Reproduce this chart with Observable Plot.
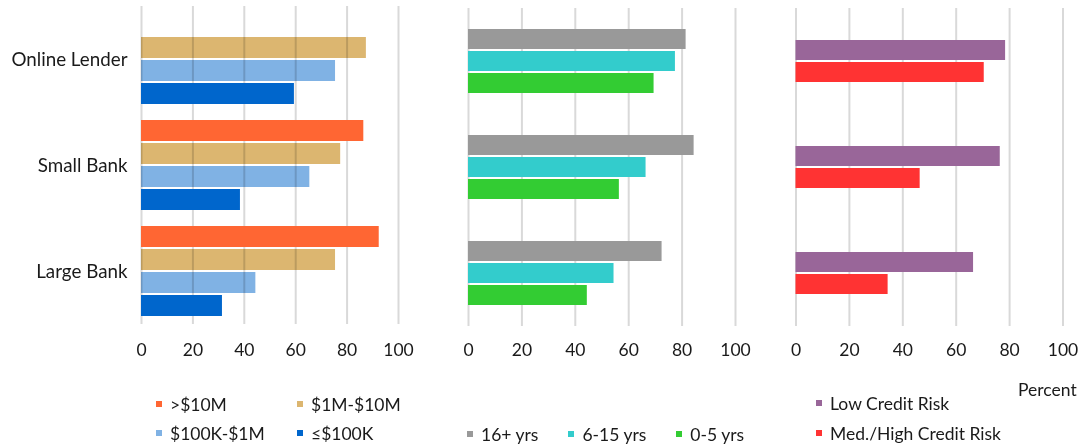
<!DOCTYPE html>
<html>
<head>
<meta charset="utf-8">
<script src="https://cdn.jsdelivr.net/npm/d3@7"></script>
<script src="https://cdn.jsdelivr.net/npm/@observablehq/plot@0.6"></script>
<style>
  html, body { margin: 0; padding: 0; background: #fff; }
  #root { position: relative; width: 1088px; height: 448px; font-family: Lato, "Noto Sans", sans-serif; color: #1a1a1a; overflow: hidden; }
  .panel { position: absolute; top: 0; }
  .legend { position: absolute; font-size: 17.5px; }
  .item { display: flex; align-items: center; height: 20px; white-space: nowrap; }
  .sw { width: 6px; height: 6px; margin-right: 8px; flex: none; }
  .grid2 { display: grid; grid-template-columns: 141px 141px; row-gap: 9px; }
  .row { display: flex; column-gap: 30px; }
  .col { display: flex; flex-direction: column; row-gap: 10px; }
  .panel g[aria-label="fy-axis tick label"] text { font-size: 18.8px; }
</style>
</head>
<body>
<div id="root"></div>
<script>
// ---- Data ----
const categories = ["Online Lender", "Small Bank", "Large Bank"];

const sizeSeries = [">$10M", "$1M-$10M", "$100K-$1M", "≤$100K"];
const sizeColors = ["#FF6633", "#DCB670", "#80B2E4", "#0066CC"];
const sizeOver10M = [null, 86.5, 92.5];
const size1Mto10M = [87.5, 77.5, 75.5];
const size100Kto1M = [75.5, 65.5, 44.5];
const sizeUnder100K = [59.5, 38.5, 31.5];

const ageSeries = ["16+ yrs", "6-15 yrs", "0-5 yrs"];
const ageColors = ["#999999", "#33CCCC", "#33CC33"];
const age16plus = [81.5, 84.5, 72.5];
const age6to15 = [77.5, 66.5, 54.5];
const age0to5 = [69.5, 56.5, 44.5];

const riskSeries = ["Low Credit Risk", "Med./High Credit Risk"];
const riskColors = ["#996699", "#FF3333"];
const riskLow = [78.5, 76.5, 66.5];
const riskMedHigh = [70.5, 46.5, 34.5];

const xTicks = [0, 20, 40, 60, 80, 100];

function rows(series, valueArrays) {
  const out = [];
  categories.forEach((c, i) => {
    series.forEach((s, j) => {
      const v = valueArrays[j][i];
      if (v != null) out.push({ category: c, series: s, value: v });
    });
  });
  return out;
}

const sizeData = rows(sizeSeries, [sizeOver10M, size1Mto10M, size100Kto1M, sizeUnder100K]);
const ageData = rows(ageSeries, [age16plus, age6to15, age0to5]);
const riskData = rows(riskSeries, [riskLow, riskMedHigh]);

const root = document.getElementById("root");

function panel({ data, series, colors, left, width, marginLeft, marginRight, marginTop, inset, labels, blend, tickPadding }) {
  const blendSet = new Set(blend || []);
  const marks = [
    Plot.gridX({ ticks: xTicks, stroke: "#d9d9d9", strokeOpacity: 1, strokeWidth: 2 }),
    Plot.barX(data.filter(d => !blendSet.has(d.series)), { x: "value", y: "series", fy: "category", fill: "series" })
  ];
  if (blendSet.size) {
    marks.push(Plot.barX(data.filter(d => blendSet.has(d.series)), { x: "value", y: "series", fy: "category", fill: "series", mixBlendMode: "multiply" }));
  }
  const chart = Plot.plot({
    width,
    height: 370,
    marginLeft,
    marginRight,
    marginTop,
    marginBottom: 370 - 327 + (7 - marginTop),
    style: { fontFamily: "Lato, 'Noto Sans', sans-serif", fontSize: "17.5px", color: "#1a1a1a", background: "transparent", overflow: "visible" },
    x: { domain: [0, 100], ticks: xTicks, tickSize: 0, tickPadding: tickPadding, label: null },
    y: { domain: series, padding: 0.1, insetTop: inset, insetBottom: inset, axis: null },
    fy: { domain: categories, padding: 0, label: null, axis: labels ? "left" : null, tickSize: 0, tickPadding: 14 },
    color: { domain: series, range: colors },
    marks
  });
  chart.classList.add("panel");
  chart.style.left = left + "px";
  root.appendChild(chart);
}

panel({ data: sizeData, series: sizeSeries, colors: sizeColors, left: 0, width: 420, marginLeft: 141, marginRight: 22, marginTop: 5, inset: 5.2, labels: true, blend: ["$1M-$10M", "$100K-$1M"], tickPadding: 19 });
panel({ data: ageData, series: ageSeries, colors: ageColors, left: 440, width: 320, marginLeft: 28, marginRight: 25, marginTop: 7, inset: 17.7, labels: false, tickPadding: 17 });
panel({ data: riskData, series: riskSeries, colors: riskColors, left: 770, width: 318, marginLeft: 25.5, marginRight: 25.5, marginTop: 7, inset: 29.7, labels: false, tickPadding: 17 });

// ---- Legends ----
function item(label, color) {
  const d = document.createElement("div");
  d.className = "item";
  const s = document.createElement("span");
  s.className = "sw";
  s.style.background = color;
  d.appendChild(s);
  d.appendChild(document.createTextNode(label));
  return d;
}
function legend(cls, left, top, series, colors) {
  const l = document.createElement("div");
  l.className = "legend " + cls;
  l.style.left = left + "px";
  l.style.top = top + "px";
  series.forEach((s, i) => l.appendChild(item(s, colors[i])));
  root.appendChild(l);
}
legend("grid2", 156, 394, sizeSeries, sizeColors);
legend("row", 467, 424, ageSeries, ageColors);
legend("col", 816, 393, riskSeries, riskColors);

const pct = document.createElement("div");
pct.className = "legend";
pct.style.left = "1018px";
pct.style.top = "379px";
pct.style.lineHeight = "22px";
pct.textContent = "Percent";
root.appendChild(pct);
</script>
</body>
</html>
